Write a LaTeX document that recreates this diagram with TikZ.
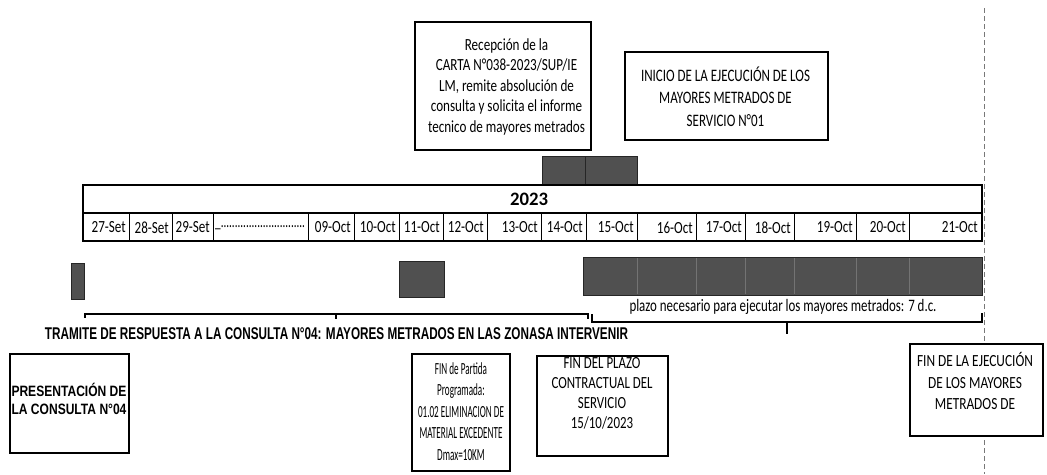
\documentclass[tikz,border=0pt]{standalone}
\usepackage{fontspec}
\setmainfont{Carlito}
\newfontfamily\lsans{Liberation Sans}
\usepackage{graphicx}
\definecolor{barfill}{RGB}{80,80,80}
\definecolor{bardiv}{RGB}{115,115,115}
\definecolor{dashgray}{RGB}{120,120,120}
\newcommand\fitw[2]{\resizebox{#1}{\height}{#2}}
\newcommand\dlab[1]{\scalebox{0.77}[1]{\fontsize{17}{17}\selectfont #1}}
\begin{document}
\begin{tikzpicture}[x=1pt,y=-1pt,
  boxframe/.style={draw=black,line width=1.8pt,fill=white,inner sep=0pt,rectangle},
  boxtext/.style={inner sep=0pt},
  bar/.style={draw=black!85,line width=0.6pt,fill=barfill},
  bardivline/.style={draw=bardiv,line width=0.8pt},
  brk/.style={line width=1.8pt,line cap=rect},
  datelab/.style={anchor=east,inner sep=0pt},
  cellsep/.style={line width=0.8pt},
  dashline/.style={draw=dashgray,line width=0.8pt,dash pattern=on 5pt off 3pt}
]
\useasboundingbox (0,0) rectangle (1047,474);
\fill[white] (0,0) rectangle (1047,474);

% vertical dashed line at the end of the period
\coordinate (dtop) at (984,8);
\coordinate (dbot) at (984,474);
\draw[dashline] (dtop) -- (dbot);

% top gray bars
\draw[bar] (542,156) rectangle (585,184);
\draw[bar] (585,156) rectangle (637,184);

% table
\draw[line width=1.2pt] (83,213) rectangle (982,241);
\foreach \x in {129,172,213,308,354,399,443,487,541,586,637,696,745,794,856,909}
  \draw[cellsep] (\x,213) -- (\x,241);
\draw[line width=2.2pt] (83,185) rectangle (982,213);
\node[inner sep=0pt] (year) at (529,199) {\fitw{38pt}{\fontsize{19}{20}\selectfont\bfseries 2023}};

\foreach \r/\l [count=\i] in {126/27-Set,169/28-Set,210/29-Set,351/09-Oct,396/10-Oct,440/11-Oct,484/12-Oct,538/13-Oct,583/14-Oct,634/15-Oct,693/16-Oct,742/17-Oct,791/18-Oct,853/19-Oct,906/20-Oct,978/21-Oct}
  \node[datelab] (d\i) at (\r,227.5) {\dlab{\l}};
\node[anchor=west,inner sep=0pt] (dots) at (215,228) {\fitw{90pt}{\fontsize{17}{17}\selectfont\_..............................}};

% gray bars of activities
\draw[bar] (71,263) rectangle (84,299);
\draw[bar] (399,261) rectangle (444,297);
\draw[bar] (583,257) rectangle (982,295);
\foreach \x in {637,696,745,794,856,909}
  \draw[bardivline] (\x,258) -- (\x,294);

% brackets
\draw[brk] (85,317) -- (85,314) -- (588,314) -- (588,318);
\draw[brk] (336,314) -- (336,318);
\draw[brk] (592,315) -- (592,322) -- (982,322) -- (982,314);
\draw[brk] (787,322) -- (787,333);

\node[inner sep=0pt] (plazo) at (783,307) {\fitw{307pt}{\fontsize{17.5}{18}\selectfont plazo necesario para ejecutar los mayores metrados: 7 d.c.}};
\node[inner sep=0pt] (tramite) at (336.5,334) {\fitw{583pt}{\lsans\bfseries\fontsize{17}{18}\selectfont TRAMITE DE RESPUESTA A LA CONSULTA N°04: MAYORES METRADOS EN LAS ZONASA INTERVENIR}};

% box 1
\node[boxframe,minimum width=176pt,minimum height=128pt] (b1) at (503,86) {};
\node[boxtext] (b1t) at (506.5,87) {\fitw{157pt}{\fontsize{17}{20.5}\selectfont\begin{tabular}{@{}c@{}}Recepción de la\\ CARTA N°038-2023/SUP/IE\\ LM, remite absolución de\\ consulta y solicita el informe\\ tecnico de mayores metrados\end{tabular}}};

% box 2
\node[boxframe,minimum width=203pt,minimum height=88pt] (b2) at (726.5,96) {};
\node[boxtext] (b2t) at (725.5,99) {\fitw{169pt}{\fontsize{17.5}{22.5}\selectfont\begin{tabular}{@{}c@{}}INICIO DE LA EJECUCIÓN DE LOS\\ MAYORES METRADOS DE\\ SERVICIO N°01\end{tabular}}};

% box 3
\node[boxframe,minimum width=119pt,minimum height=99pt] (b3) at (69.5,403.5) {};
\node[boxtext] (b3t) at (69,402) {\fitw{115pt}{\lsans\bfseries\fontsize{15}{18}\selectfont\begin{tabular}{@{}c@{}}PRESENTACIÓN DE\\ LA CONSULTA N°04\end{tabular}}};

% box 4
\node[boxframe,minimum width=98pt,minimum height=117pt] (b4) at (461,412.5) {};
\node[boxtext] (b4t) at (461,413) {\fitw{86pt}{\fontsize{17}{21.5}\selectfont\begin{tabular}{@{}c@{}}FIN de Partida\\ Programada:\\ 01.02 ELIMINACION DE\\ MATERIAL EXCEDENTE\\ Dmax=10KM\end{tabular}}};

% box 5
\node[boxframe,minimum width=131pt,minimum height=100pt] (b5) at (602.5,406) {};
\node[boxtext] (b5t) at (602,394) {\fitw{101pt}{\fontsize{17}{20}\selectfont\begin{tabular}{@{}c@{}}FIN DEL PLAZO\\ CONTRACTUAL DEL\\ SERVICIO\\ 15/10/2023\end{tabular}}};

% box 6
\node[boxframe,minimum width=133pt,minimum height=92pt] (b6) at (976.5,390) {};
\node[boxtext] (b6t) at (975,384) {\fitw{116pt}{\fontsize{17}{21.5}\selectfont\begin{tabular}{@{}c@{}}FIN DE LA EJECUCIÓN\\ DE LOS MAYORES\\ METRADOS DE\end{tabular}}};
\end{tikzpicture}
\end{document}
